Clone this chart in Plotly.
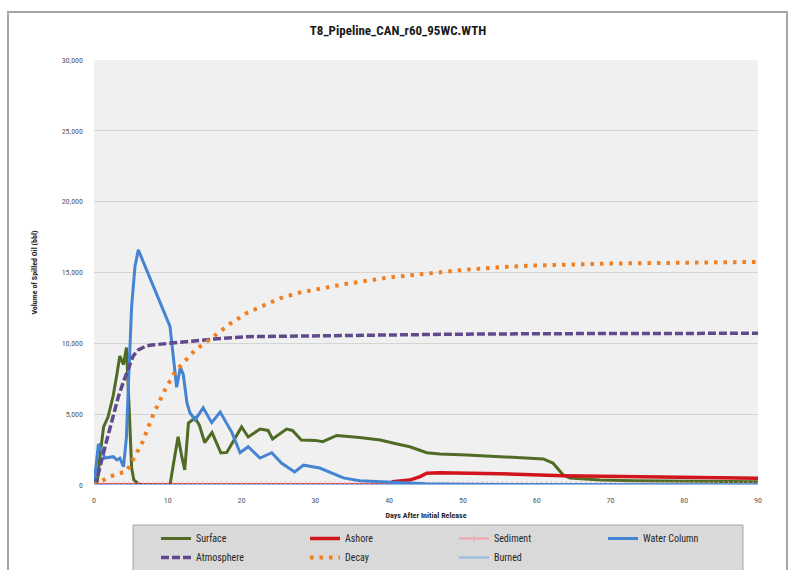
import numpy as np
import plotly.graph_objects as go

# --- Oil fate time series (days after release, volume in bbl) ---
surface_days = [0, 0.4, 0.8, 1.3, 1.9, 2.6, 3.1, 3.5, 4.0, 4.4, 4.8, 5.1, 5.4, 6.0, 6.5,
                10.3, 11.0, 11.4, 11.9, 12.3, 12.8, 13.7, 14.3, 15.0, 16.0, 17.2, 18.0,
                20.0, 20.9, 22.5, 23.6, 24.2, 26.1, 26.9, 28.1, 30.0, 31.0, 32.9, 36.0,
                38.8, 40.5, 42.8, 45.1, 46.9, 50.5, 55.0, 60.9, 62.2, 63.6, 64.5, 68.6,
                73.0, 80.0, 90.0]
surface_vals = [0, 0, 2000, 4100, 4800, 6300, 7800, 9100, 8500, 9700, 5000, 1200, 350, 100, 0,
                0, 2200, 3400, 2000, 1060, 4370, 4750, 4200, 3000, 3700, 2260, 2300,
                4100, 3390, 3950, 3850, 3250, 3950, 3850, 3180, 3150, 3060, 3500, 3350,
                3180, 2960, 2700, 2280, 2190, 2120, 2000, 1840, 1550, 700, 490, 350,
                300, 260, 230]

ashore_days = [0, 40.0, 40.5, 42.8, 44.2, 45.1, 46.9, 55.0, 63.6, 75.0, 90.0]
ashore_vals = [0, 0, 230, 350, 590, 830, 870, 800, 660, 580, 470]

water_days = [0, 0.6, 1.5, 2.6, 3.1, 3.5, 4.0, 4.4, 4.65, 5.1, 5.55, 6.0, 10.3, 11.2, 11.7,
              12.1, 12.6, 13.0, 13.7, 14.8, 15.95, 17.1, 18.7, 19.8, 20.9, 22.5, 24.1,
              25.4, 27.2, 28.4, 30.6, 32.2, 33.8, 36.0, 38.8, 41.0, 45.0, 50.0, 60.0,
              70.0, 90.0]
water_vals = [0, 2900, 1900, 2000, 1770, 1900, 1290, 3400, 6900, 12600, 15400, 16600, 11200,
              6900, 8300, 7800, 5800, 5100, 4600, 5450, 4400, 5150, 3700, 2280, 2700, 1900,
              2280, 1550, 920, 1400, 1200, 850, 500, 300, 230, 150, 80, 50, 30, 20, 10]

atmos_days = [0, 0.2, 1.5, 2.6, 3.3, 4.0, 4.65, 5.3, 6.0, 7.0, 7.8, 10.0, 11.7, 14.0, 16.2,
              20.7, 25.0, 32.0, 40.0, 48.2, 60.0, 75.0, 90.0]
atmos_vals = [0, 0, 2700, 4900, 6230, 7300, 8240, 9100, 9530, 9800, 9880, 10000, 10050,
              10180, 10300, 10470, 10500, 10520, 10580, 10640, 10680, 10700, 10710]

decay_days = [0, 0.8, 2.2, 3.3, 4.2, 4.8, 5.3, 5.9, 6.6, 8.0, 9.6, 11.0, 12.3, 13.7, 16.2,
              18.5, 20.7, 23.0, 25.2, 28.0, 32.0, 34.2, 40.0, 45.0, 50.0, 55.0, 60.0,
              70.0, 80.0, 90.0]
decay_vals = [0, 230, 590, 830, 900, 1300, 1760, 2400, 3060, 4940, 6700, 8000, 8700, 9530,
              10470, 11400, 12140, 12700, 13180, 13600, 14000, 14200, 14650, 14950, 15180,
              15380, 15500, 15630, 15700, 15750]

# model output steps for the two zero-valued compartments
step_days = list(np.linspace(0, 90, 136))
sediment_vals = [0] * len(step_days)
burned_vals = [0] * len(step_days)

y_ticks = [0, 5000, 10000, 15000, 20000, 25000, 30000]
y_tick_text = ["0", "5,000", "10,000", "15,000", "20,000", "25,000", "30,000"]
x_ticks = [0, 10, 20, 30, 40, 50, 60, 70, 80, 90]

FONT = "Liberation Sans Narrow, Arial Narrow, Roboto Condensed, Roboto, sans-serif"

# plot-area geometry in pixels, used to place the frame and legend panel
W, H = 795, 570
L, R, T, B = 94, 37, 60, 85
PW, PH = W - L - R, H - T - B


def px_x(x):
    return (x - L) / PW


def px_y(y):
    return (H - B - y) / PH


fig = go.Figure()

fig.add_trace(go.Scatter(x=surface_days, y=surface_vals, name="Surface", mode="lines",
                         line=dict(color="#4f6b26", width=3)))
fig.add_trace(go.Scatter(x=ashore_days, y=ashore_vals, name="Ashore", mode="lines",
                         line=dict(color="#d2141c", width=3.5)))
fig.add_trace(go.Scatter(x=step_days, y=sediment_vals, name="Sediment", mode="lines+markers",
                         line=dict(color="#f2a3aa", width=2),
                         marker=dict(symbol="line-ns", size=5,
                                     line=dict(color="#f2a3aa", width=1))))
fig.add_trace(go.Scatter(x=water_days, y=water_vals, name="Water Column", mode="lines",
                         line=dict(color="#4584d3", width=3)))
fig.add_trace(go.Scatter(x=atmos_days, y=atmos_vals, name="Atmosphere", mode="lines",
                         line=dict(color="#5e4a8c", width=3.5, dash="8px,3px")))
fig.add_trace(go.Scatter(x=decay_days, y=decay_vals, name="Decay", mode="lines",
                         line=dict(color="#f07f22", width=4, dash="3.5px,6px")))
fig.add_trace(go.Scatter(x=step_days, y=burned_vals, name="Burned", mode="lines",
                         line=dict(color="#93b6e2", width=2)))

# chart frame
fig.add_shape(type="rect", xref="paper", yref="paper",
              x0=px_x(8), x1=px_x(787), y0=px_y(600), y1=px_y(12),
              line=dict(color="#a6a6a6", width=2), fillcolor="rgba(0,0,0,0)", layer="below")
# legend panel
fig.add_shape(type="rect", xref="paper", yref="paper",
              x0=px_x(133), x1=px_x(743), y0=px_y(600), y1=px_y(525),
              line=dict(color="#a6a6a6", width=1), fillcolor="#d9d9d9", layer="below")

fig.update_layout(
    width=W, height=H,
    margin=dict(l=L, r=R, t=T, b=B),
    paper_bgcolor="white",
    plot_bgcolor="#f0f0f0",
    font=dict(family=FONT, color="#404040"),
    title=dict(text="<b>T8_Pipeline_CAN_r60_95WC.WTH</b>", x=398 / W, xanchor="center",
               y=1 - 30 / H, yanchor="middle", font=dict(size=13, color="#1a1a1a")),
    showlegend=True,
    legend=dict(orientation="h", xref="container", x=156 / W, xanchor="left",
                yref="container", y=1 - 524 / H, yanchor="top",
                bgcolor="rgba(0,0,0,0)", borderwidth=0,
                font=dict(size=10, color="#262626"), entrywidth=104, entrywidthmode="pixels",
                traceorder="normal"),
    xaxis=dict(range=[0, 90], tickvals=x_ticks, showgrid=False, zeroline=False,
               showline=False, ticks="", ticklabelstandoff=9, automargin=False,
               tickfont=dict(size=8, color="#595959"),
               title=dict(text="<b>Days After Initial Release</b>", standoff=8,
                          font=dict(size=8, color="#262626"))),
    yaxis=dict(range=[0, 30000], tickvals=y_ticks, ticktext=y_tick_text, showgrid=True,
               gridcolor="#d4d4d4", gridwidth=1, zeroline=False, showline=False, ticks="",
               ticklabelstandoff=10, automargin=False, tickfont=dict(size=8, color="#595959"),
               title=dict(text="<b>Volume of Spilled Oil (bbl)</b>", standoff=22,
                          font=dict(size=8, color="#262626"))),
)

fig.write_html("out.html")
